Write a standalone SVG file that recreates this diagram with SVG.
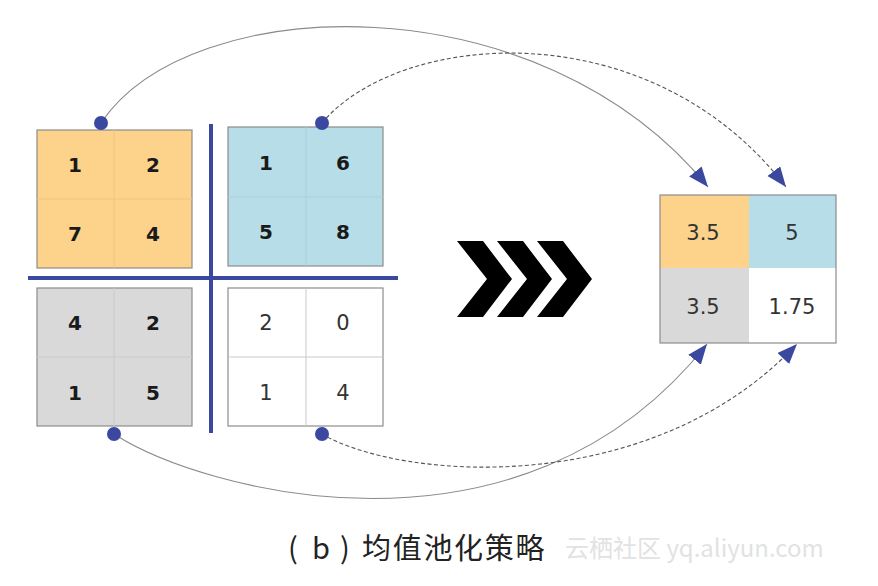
<svg xmlns="http://www.w3.org/2000/svg" width="878" height="586" viewBox="0 0 878 586">
<defs>
<style>
.cell{stroke:#c9c9c9;stroke-width:1;fill:none}
.box{stroke:#8c8c8c;stroke-width:1.2}
.b{font-family:"DejaVu Sans",Verdana,sans-serif;font-size:20px;font-weight:bold;fill:#1a1a1a;text-anchor:middle;dominant-baseline:central}
.n{font-family:"DejaVu Sans",Verdana,sans-serif;font-size:21px;fill:#333;text-anchor:middle;dominant-baseline:central}
.dot{fill:#3a48a0}
.div{stroke:#3a48a0;stroke-width:4}
.conn{fill:none;stroke:#8a8a8a;stroke-width:1.1}
.dash{stroke:#555;stroke-dasharray:4 2.5}
.cap{font-family:"Noto Sans CJK SC","DejaVu Sans",sans-serif;fill:#222}
</style>
<marker id="ah" markerUnits="userSpaceOnUse" markerWidth="24" markerHeight="18" refX="20" refY="8" orient="auto">
<path d="M0,0 L20,8 L0,16 z" fill="#3a48a0"/>
</marker>
</defs>
<rect width="878" height="586" fill="#fff"/>

<g id="connectors">
<path class="conn" d="M101,123 C190,-10 540,-20 708,187" marker-end="url(#ah)"/>
<path class="conn dash" d="M322,123 C400,30 650,10 786,187" marker-end="url(#ah)"/>
<path class="conn" d="M114,434 C200,490 520,580 707,344" marker-end="url(#ah)"/>
<path class="conn dash" d="M322,434 C400,480 650,500 797,344" marker-end="url(#ah)"/>
</g>

<g id="dividers">
<line class="div" x1="211" y1="124" x2="211" y2="433"/>
<line class="div" x1="28" y1="278" x2="398" y2="278"/>
</g>

<g id="grid-orange">
<rect class="box" x="37" y="130" width="155" height="138" fill="#fdd28a"/>
<line class="cell" x1="114" y1="130" x2="114" y2="268" style="stroke:#efc47e"/>
<line class="cell" x1="37" y1="199" x2="192" y2="199" style="stroke:#efc47e"/>
<text class="b" x="75" y="165">1</text>
<text class="b" x="153" y="165">2</text>
<text class="b" x="75" y="234">7</text>
<text class="b" x="153" y="234">4</text>
</g>

<g id="grid-blue">
<rect class="box" x="228" y="127" width="155" height="139" fill="#b7dde8"/>
<line class="cell" x1="306" y1="127" x2="306" y2="266" style="stroke:#a9d0dc"/>
<line class="cell" x1="228" y1="197" x2="383" y2="197" style="stroke:#a9d0dc"/>
<text class="b" x="266" y="163">1</text>
<text class="b" x="343" y="163">6</text>
<text class="b" x="266" y="232">5</text>
<text class="b" x="343" y="232">8</text>
</g>

<g id="grid-gray">
<rect class="box" x="37" y="288" width="155" height="138" fill="#d9d9d9"/>
<line class="cell" x1="114" y1="288" x2="114" y2="426" style="stroke:#cacaca"/>
<line class="cell" x1="37" y1="357" x2="192" y2="357" style="stroke:#cacaca"/>
<text class="b" x="75" y="323">4</text>
<text class="b" x="153" y="323">2</text>
<text class="b" x="75" y="393">1</text>
<text class="b" x="153" y="393">5</text>
</g>

<g id="grid-white">
<rect class="box" x="228" y="288" width="155" height="138" fill="#fff"/>
<line class="cell" x1="306" y1="288" x2="306" y2="426"/>
<line class="cell" x1="228" y1="357" x2="383" y2="357"/>
<text class="n" x="266" y="323">2</text>
<text class="n" x="343" y="323">0</text>
<text class="n" x="266" y="393">1</text>
<text class="n" x="343" y="393">4</text>
</g>

<g id="dots">
<circle class="dot" cx="101" cy="123" r="7"/>
<circle class="dot" cx="322" cy="123" r="7"/>
<circle class="dot" cx="114" cy="434" r="7"/>
<circle class="dot" cx="322" cy="434" r="7"/>
</g>

<g id="chevrons" fill="#000">
<polygon points="457,241 483,241 512,279 483,317 457,317 487,279"/>
<polygon points="497,241 523,241 552,279 523,317 497,317 527,279"/>
<polygon points="537,241 563,241 592,279 563,317 537,317 567,279"/>
</g>

<g id="result">
<rect x="660" y="195" width="89" height="73" fill="#fdd28a"/>
<rect x="749" y="195" width="87" height="73" fill="#b7dde8"/>
<rect x="660" y="268" width="89" height="75" fill="#d9d9d9"/>
<rect x="749" y="268" width="87" height="75" fill="#fff"/>
<rect x="660" y="195" width="176" height="148" fill="none" stroke="#8c8c8c" stroke-width="1.2"/>
<text class="n" x="703" y="233">3.5</text>
<text class="n" x="792" y="233">5</text>
<text class="n" x="703" y="307">3.5</text>
<text class="n" x="792" y="307">1.75</text>
</g>

<g id="caption">
<text class="cap" y="559" font-size="29"><tspan x="288">(</tspan><tspan x="312">b</tspan><tspan x="340">)</tspan><tspan x="362" letter-spacing="1.7">均值池化策略</tspan></text>
<text x="565" y="557" font-family="'Noto Sans CJK SC','DejaVu Sans',sans-serif" font-size="24" fill="#e2e2e2">云栖社区 yq.aliyun.com</text>
</g>
</svg>
